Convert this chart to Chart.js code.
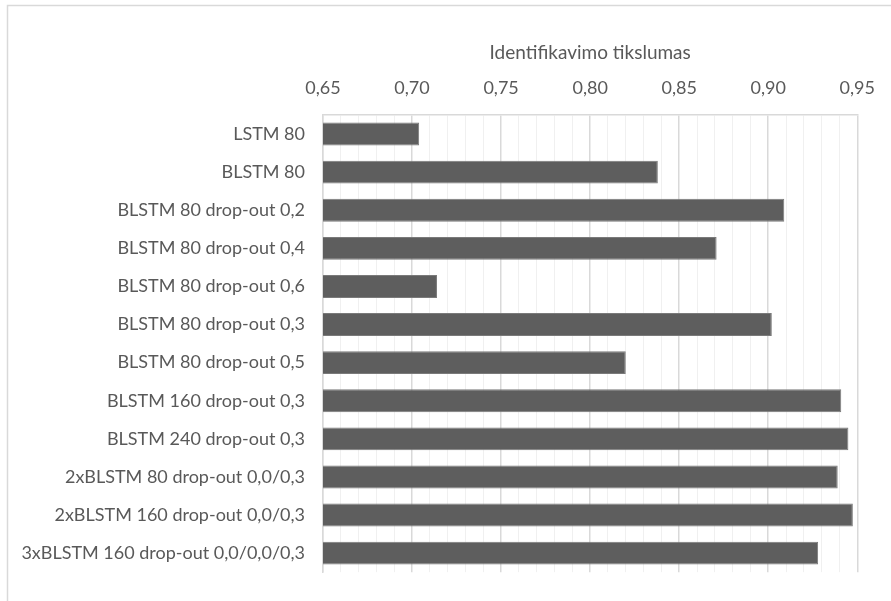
<!DOCTYPE html>
<html>
<head>
<meta charset="utf-8">
<script src="https://cdn.jsdelivr.net/npm/chart.js@4"></script>
<style>
html,body{margin:0;padding:0;background:#fff;}
#wrap{position:relative;width:891px;height:601px;}
canvas{display:block;}
</style>
</head>
<body>
<div id="wrap"><canvas id="c" width="891" height="601"></canvas></div>
<script>
const categories = [
  "LSTM 80",
  "BLSTM 80",
  "BLSTM 80 drop-out 0,2",
  "BLSTM 80 drop-out 0,4",
  "BLSTM 80 drop-out 0,6",
  "BLSTM 80 drop-out 0,3",
  "BLSTM 80 drop-out 0,5",
  "BLSTM 160 drop-out 0,3",
  "BLSTM 240 drop-out 0,3",
  "2xBLSTM 80 drop-out 0,0/0,3",
  "2xBLSTM 160 drop-out 0,0/0,3",
  "3xBLSTM 160 drop-out 0,0/0,0/0,3"
];
const accuracy = [0.704, 0.838, 0.909, 0.871, 0.714, 0.902, 0.820, 0.941, 0.945, 0.939, 0.9475, 0.928];
const tickLabels = ["0,65", "0,70", "0,75", "0,80", "0,85", "0,90", "0,95"];
const axisTitle = "Identifikavimo tikslumas";
const xMin = 0.65, xMax = 0.95;

const FONT = "Lato, 'Open Sans', sans-serif";
const TXT = "#595959";

const frame = {
  id: 'frame',
  beforeDraw(chart) {
    const ctx = chart.ctx;
    ctx.save();
    ctx.fillStyle = '#fff';
    ctx.fillRect(0, 0, chart.width, chart.height);
    ctx.strokeStyle = '#d9d9d9';
    ctx.lineWidth = 1.5;
    ctx.beginPath();
    ctx.moveTo(7.5, chart.height + 5);
    ctx.lineTo(7.5, 5.5);
    ctx.lineTo(chart.width + 5, 5.5);
    ctx.stroke();
    ctx.restore();
  }
};

new Chart(document.getElementById('c'), {
  type: 'bar',
  data: {
    labels: categories,
    datasets: [{
      data: accuracy,
      backgroundColor: '#5e5e5e',
      borderColor: '#7a7a7a',
      borderWidth: 1,
      categoryPercentage: 1.0,
      barPercentage: 0.6
    }]
  },
  options: {
    indexAxis: 'y',
    responsive: false,
    animation: false,
    devicePixelRatio: 1,
    layout: { padding: { left: 0, top: 0, right: 30, bottom: 23 } },
    plugins: { legend: { display: false }, tooltip: { enabled: false } },
    scales: {
      x: {
        position: 'top',
        min: xMin, max: xMax,
        afterFit(s) { s.height = 115; },
        ticks: {
          stepSize: 0.01,
          autoSkip: false,
          maxRotation: 0,
          padding: 16,
          color: TXT,
          font: { family: FONT, size: 18 },
          callback(v) {
            const k = Math.round(v * 100);
            if (k % 5 !== 0) return '';
            return tickLabels[(k - 65) / 5];
          }
        },
        grid: {
          drawTicks: false,
          color(c) {
            const k = Math.round(c.tick.value * 100);
            return k % 5 === 0 ? '#d9d9d9' : '#f0f0f0';
          },
          lineWidth(c) {
            const k = Math.round(c.tick.value * 100);
            return k % 5 === 0 ? 1.5 : 1;
          }
        },
        border: { display: true, color: '#d9d9d9', width: 1.5 },
        title: {
          display: true,
          text: axisTitle,
          color: TXT,
          font: { family: FONT, size: 19 },
          padding: { top: 41, bottom: 0 }
        }
      },
      y: {
        afterFit(s) { s.width = 323; },
        ticks: {
          padding: 18,
          color: TXT,
          font: { family: FONT, size: 18 }
        },
        grid: { display: false, drawTicks: false },
        border: { display: true, color: '#d9d9d9', width: 1.5 }
      }
    }
  },
  plugins: [frame]
});
</script>
</body>
</html>
